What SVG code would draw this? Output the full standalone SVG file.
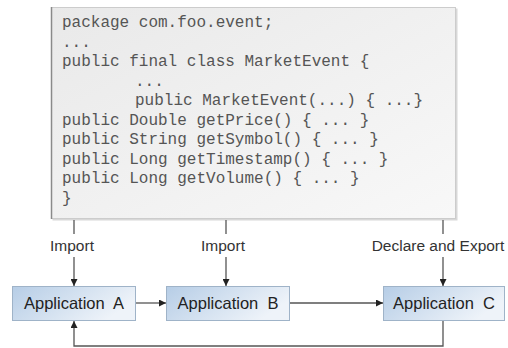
<svg xmlns="http://www.w3.org/2000/svg" width="508" height="348" viewBox="0 0 508 348">
<defs>
<linearGradient id="codeBg" x1="0" y1="0" x2="1" y2="1">
<stop offset="0" stop-color="#e9e9e9"/>
<stop offset="1" stop-color="#f8f8f8"/>
</linearGradient>
<linearGradient id="appBg" x1="0" y1="0" x2="1" y2="0.4">
<stop offset="0" stop-color="#b6cde6"/>
<stop offset="1" stop-color="#eef3f9"/>
</linearGradient>
<marker id="ah" viewBox="0 0 10 10" refX="10" refY="5" markerWidth="7" markerHeight="7" markerUnits="userSpaceOnUse" orient="auto">
<path d="M0,0 L10,5 L0,10 z" fill="#222"/>
</marker>
</defs>
<style>
.code{font-family:"Liberation Mono","Courier New",monospace;font-size:16px;fill:#555}
.lbl{font-family:"Liberation Sans",Arial,sans-serif;font-size:15.5px;fill:#333;text-anchor:middle}
.app{fill:url(#appBg);stroke:#9fb3c8;stroke-width:1}
.apptxt{font-family:"Liberation Sans",Arial,sans-serif;font-size:16.5px;fill:#222;text-anchor:middle}
.conn{fill:none;stroke:#555;stroke-width:1.3}
</style>
<g id="code">
<rect x="52.5" y="8.5" width="405" height="212" fill="#d8d8d8"/>
<rect x="51.5" y="7.5" width="404" height="211" fill="url(#codeBg)" stroke="#cccccc"/>
<line x1="51.5" y1="7" x2="51.5" y2="219" stroke="#8a8a8a" stroke-width="1.5"/>
<text class="code" x="62" y="27">package com.foo.event;</text>
<text class="code" x="62" y="46.5">...</text>
<text class="code" x="62" y="66">public final class MarketEvent {</text>
<text class="code" x="135" y="85.5">...</text>
<text class="code" x="135" y="105">public MarketEvent(...) { ...}</text>
<text class="code" x="62" y="124.5">public Double getPrice() { ... }</text>
<text class="code" x="62" y="144">public String getSymbol() { ... }</text>
<text class="code" x="62" y="163.5">public Long getTimestamp() { ... }</text>
<text class="code" x="62" y="183">public Long getVolume() { ... }</text>
<text class="code" x="62" y="202.5">}</text>
</g>
<g id="connectors">
<line class="conn" x1="74" y1="220" x2="74" y2="234"/>
<line class="conn" x1="74" y1="257" x2="74" y2="286" marker-end="url(#ah)"/>
<line class="conn" x1="226" y1="220" x2="226" y2="234"/>
<line class="conn" x1="226" y1="257" x2="226" y2="286" marker-end="url(#ah)"/>
<line class="conn" x1="443" y1="220" x2="443" y2="234"/>
<line class="conn" x1="443" y1="257" x2="443" y2="286" marker-end="url(#ah)"/>
<line class="conn" x1="136" y1="303" x2="166" y2="303" marker-end="url(#ah)"/>
<line class="conn" x1="290" y1="303" x2="383" y2="303" marker-end="url(#ah)"/>
<polyline class="conn" points="443,321 443,346 74,346 74,321" marker-end="url(#ah)"/>
<text class="lbl" x="72" y="251">Import</text>
<text class="lbl" x="223" y="251">Import</text>
<text class="lbl" x="438" y="251">Declare and Export</text>
</g>
<g id="appA">
<rect class="app" x="12.5" y="286.5" width="123" height="34"/>
<text class="apptxt" x="74" y="309" xml:space="preserve">Application  A</text>
</g>
<g id="appB">
<rect class="app" x="166.5" y="286.5" width="123" height="34"/>
<text class="apptxt" x="228" y="309" xml:space="preserve">Application  B</text>
</g>
<g id="appC">
<rect class="app" x="383.5" y="286.5" width="121" height="34"/>
<text class="apptxt" x="444" y="309" xml:space="preserve">Application  C</text>
</g>
</svg>
